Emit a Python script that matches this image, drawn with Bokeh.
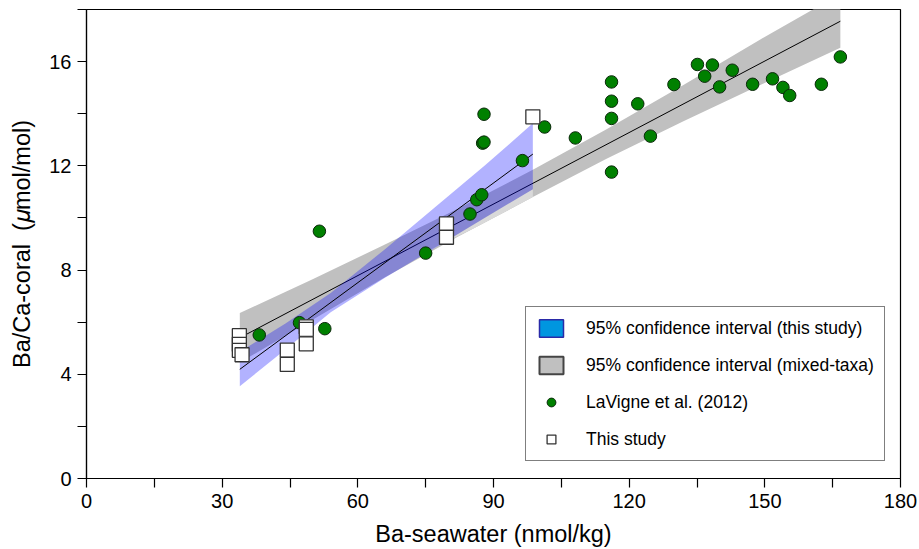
from bokeh.plotting import figure
from bokeh.models import Range1d, FixedTicker, Legend, LegendItem, ColumnDataSource
from bokeh.embed import file_html
from bokeh.resources import INLINE
import numpy as np

# LaVigne et al. (2012): Ba-seawater (nmol/kg) vs Ba/Ca-coral (umol/mol)
lav_x = [38.2, 47.1, 52.7, 51.5, 75.0, 84.8, 86.3, 87.4, 87.6, 87.9, 87.9, 96.4,
         101.3, 108.1, 116.1, 116.1, 116.1, 116.1, 121.9, 124.7, 129.9, 135.1,
         136.7, 138.4, 140.0, 142.8, 147.3, 151.7, 154.0, 155.5, 162.5, 166.7]
lav_y = [5.51, 5.98, 5.75, 9.49, 8.65, 10.15, 10.70, 10.89, 12.87, 12.91, 13.98, 12.20,
         13.49, 13.07, 15.22, 14.48, 13.82, 11.76, 14.38, 13.14, 15.12, 15.89,
         15.44, 15.87, 15.03, 15.67, 15.13, 15.34, 15.01, 14.70, 15.13, 16.18]

# This study
study_x = [33.8, 33.8, 33.8, 34.4, 44.4, 44.4, 48.6, 48.6, 48.6, 79.6, 79.6, 98.7]
study_y = [5.48, 5.15, 4.92, 4.75, 4.93, 4.38, 5.82, 5.72, 5.17, 9.77, 9.26, 13.88]

# Regression lines (end points)
fit_study_x = [33.9, 98.7]
fit_study_y = [4.19, 12.45]
fit_mixed_x = [33.9, 166.7]
fit_mixed_y = [5.40, 17.55]

# 95% confidence band, mixed-taxa regression
ci_mixed_x = [33.9, 50.0, 66.0, 82.0, 98.7, 115.0, 132.0, 149.0, 166.7]
ci_mixed_lo = [4.45, 6.09, 7.72, 9.27, 10.80, 12.27, 13.71, 15.10, 16.53]
ci_mixed_hi = [6.35, 7.65, 8.98, 10.34, 11.85, 13.40, 15.10, 16.85, 18.60]

# 95% confidence band, this study
ci_study_x = [33.9, 44.0, 54.0, 66.0, 77.0, 88.0, 98.7]
ci_study_lo = [3.54, 4.95, 6.38, 7.70, 8.85, 10.00, 11.10]
ci_study_hi = [4.86, 5.95, 7.12, 8.80, 10.40, 12.00, 13.63]

# pale part of the mixed band left of the study range end
shade_x = [74.0, 86.0, 98.7]
shade_lo = [8.62, 9.63, 10.80]

x_ticks = [0, 30, 60, 90, 120, 150, 180]
x_minor = [15, 45, 75, 105, 135, 165]
y_ticks = [0, 4, 8, 12, 16]
y_minor = [2, 6, 10, 14, 18]

FONT = "Liberation Sans"

p = figure(width=919, height=549, x_range=Range1d(0, 180), y_range=Range1d(0, 18),
           output_backend="svg", toolbar_location=None,
           min_border_left=86, min_border_right=19, min_border_top=9, min_border_bottom=70)
p.xgrid.visible = False
p.ygrid.visible = False
p.outline_line_color = "black"
p.outline_line_width = 1.2
p.background_fill_color = "white"
p.border_fill_color = "white"

p.xaxis.ticker = FixedTicker(ticks=x_ticks, minor_ticks=x_minor)
p.yaxis.ticker = FixedTicker(ticks=y_ticks, minor_ticks=y_minor)
p.xaxis.axis_label = "Ba-seawater (nmol/kg)"
# mathematical italic small mu
p.yaxis.axis_label = "Ba/Ca-coral\u00a0 (\U0001D707mol/mol)"

for ax in (p.xaxis[0], p.yaxis[0]):
    ax.axis_line_color = "black"
    ax.axis_line_width = 1.2
    ax.major_tick_line_color = "black"
    ax.minor_tick_line_color = "black"
    ax.major_tick_line_width = 1.2
    ax.minor_tick_line_width = 1.2
    ax.major_tick_out = 9
    ax.major_tick_in = 0
    ax.minor_tick_out = 9
    ax.minor_tick_in = 0
    ax.major_label_text_font = FONT
    ax.major_label_text_font_size = "20px"
    ax.major_label_text_color = "black"
    ax.axis_label_text_font = FONT
    ax.axis_label_text_font_size = "23.5px"
    ax.axis_label_text_font_style = "normal"
    ax.axis_label_text_color = "black"
p.xaxis.major_label_standoff = 6
p.xaxis.axis_label_standoff = 10
p.yaxis.major_label_standoff = 6
p.yaxis.axis_label_standoff = 11

# bands
p.varea(x=ci_mixed_x, y1=ci_mixed_lo, y2=ci_mixed_hi, fill_color="#c0c0c0")
shade_top = np.interp(shade_x, ci_study_x, ci_study_lo)
p.varea(x=shade_x, y1=shade_lo, y2=shade_top, fill_color="#d9d9d9")
p.line(fit_mixed_x, fit_mixed_y, line_color="black", line_width=1)
p.varea(x=ci_study_x, y1=ci_study_lo, y2=ci_study_hi, fill_color="#0000ff", fill_alpha=0.3)
p.line(fit_study_x, fit_study_y, line_color="black", line_width=1)

# points
r_lav = p.scatter(lav_x, lav_y, marker="circle", size=12.5, fill_color="#008000",
                  line_color="#0b2a0b", line_width=1)
r_study = p.scatter(study_x, study_y, marker="square", size=14, fill_color="white",
                    line_color="#333333", line_width=1.3)

# legend swatches (not drawn in the plot area)
swatch_src = ColumnDataSource(data=dict(l=[np.nan], r=[np.nan], t=[np.nan], b=[np.nan]))
sw_study = p.quad(left="l", right="r", top="t", bottom="b", source=swatch_src,
                  fill_color="#0096e0", line_color="#2a2aa8", line_width=1.5)
sw_mixed = p.quad(left="l", right="r", top="t", bottom="b", source=swatch_src,
                  fill_color="#c0c0c0", line_color="#444444", line_width=2)

legend = Legend(items=[
    LegendItem(label="95% confidence interval (this study)", renderers=[sw_study]),
    LegendItem(label="95% confidence interval (mixed-taxa)", renderers=[sw_mixed]),
    LegendItem(label="LaVigne et al. (2012)", renderers=[r_lav]),
    LegendItem(label="This study", renderers=[r_study]),
], location=(439, 17))
legend.border_line_color = "black"
legend.border_line_width = 1.2
legend.background_fill_color = "white"
legend.background_fill_alpha = 1
legend.label_text_font = FONT
legend.label_text_font_size = "17.5px"
legend.label_text_color = "black"
legend.glyph_width = 30
legend.glyph_height = 22
legend.label_height = 22
legend.label_standoff = 20
legend.spacing = 15
legend.padding = 10
legend.margin = 0
p.add_layout(legend)

open("out.html", "w").write(file_html(p, INLINE))
